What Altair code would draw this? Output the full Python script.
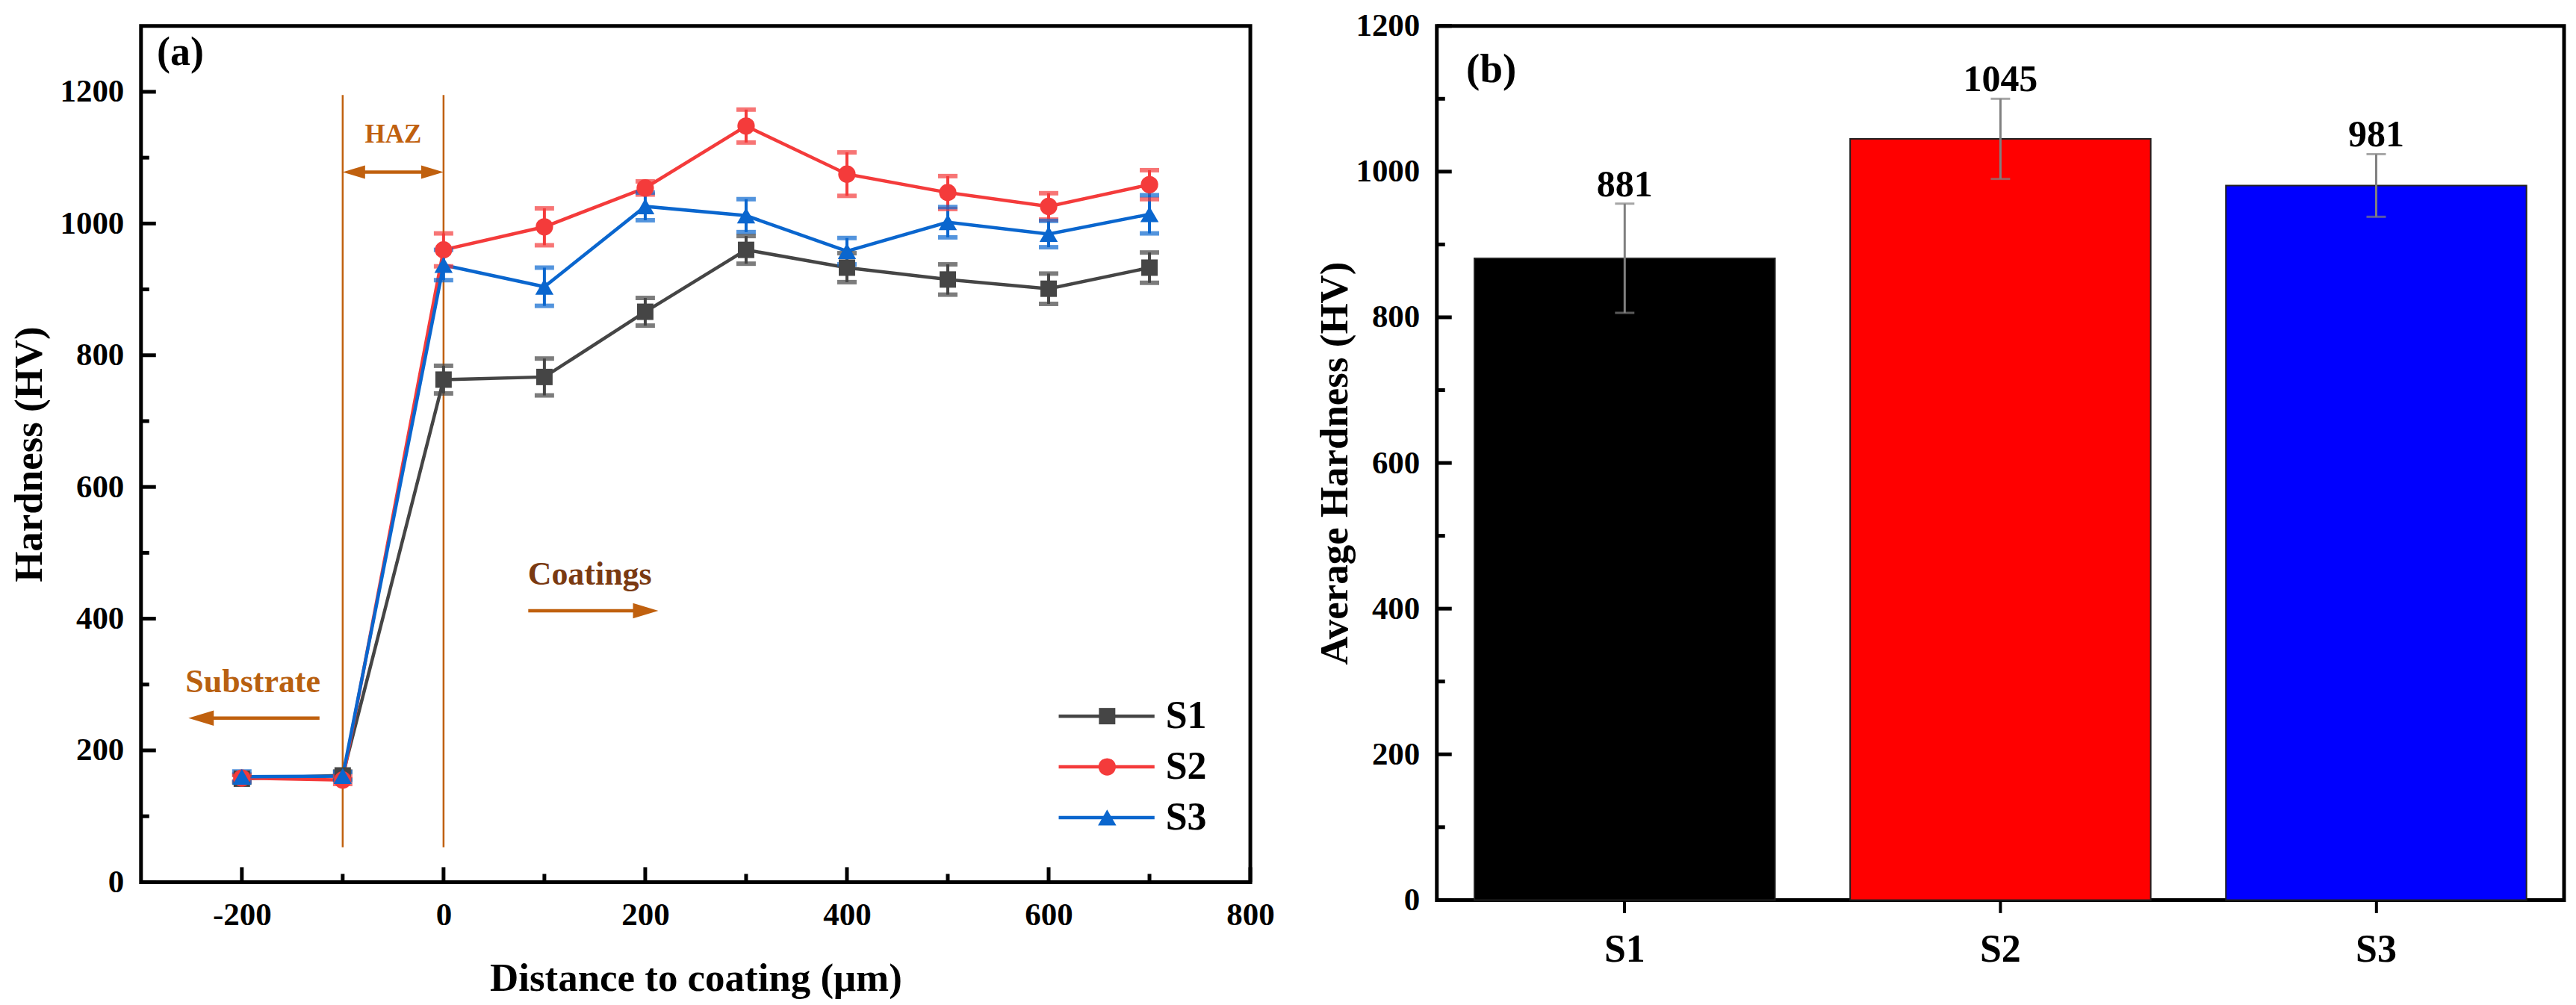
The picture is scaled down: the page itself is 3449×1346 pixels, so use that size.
import altair as alt
import pandas as pd

FONT = "Liberation Serif"

# ---------------- Panel (a): hardness profile ----------------
distance = [-200, -100, 0, 100, 200, 300, 400, 500, 600, 700]
s1_hv = [157, 162, 763, 767, 866, 960, 933, 915, 901, 933]
s1_err = [6, 6, 21, 28, 21, 21, 22, 23, 23, 23]
s2_hv = [158, 155, 960, 995, 1054, 1148, 1075, 1047, 1026, 1059]
s2_err = [5, 6, 25, 28, 10, 25, 33, 25, 20, 22]
s3_hv = [160, 161, 937, 904, 1026, 1012, 958, 1002, 984, 1014]
s3_err = [8, 6, 23, 29, 21, 25, 20, 23, 20, 29]

series = ["S1", "S2", "S3"]

x_major = [-200, 0, 200, 400, 600, 800]
x_minor = [-100, 100, 300, 500, 700]
y_major = [0, 200, 400, 600, 800, 1000, 1200]
y_minor = [100, 300, 500, 700, 900, 1100]

# annotation anchors (data units)
haz_x = [-100, 0]
haz_y0, haz_y1 = 53, 1195
haz_arrow_y = 1078
haz_text_x, haz_text_y = -50, 1135
sub_text_x, sub_text_y = -189, 303
sub_tail, sub_tip, sub_y = -123, -253, 249
coat_text_x, coat_text_y = 145, 466
coat_tail, coat_tip, coat_y = 84, 213, 412
a_text_x, a_text_y = -261, 1259
legend_y = [252, 175, 98]
leg_x0, leg_x1, leg_xm, leg_xt = 610, 705, 658, 716

# ---------------- Panel (b): average hardness ----------------
samples = ["S1", "S2", "S3"]
avg_hv = [881, 1045, 981]
avg_err = [75, 55, 43]

# ---------------- styles ----------------
series_colors = ["#454545", "#F43B3B", "#0A66CE"]
series_shapes = ["square", "circle", "triangle-up"]
marker_sizes = [484, 600, 700]
bar_colors = ["#000000", "#FF0000", "#0000FF"]
ORANGE = "#C0600E"
SUB_COLOR = "#B8600F"
COAT_COLOR = "#7A3A12"
W_A, H_A = 1487, 1148
W_B, H_B = 1511, 1172
HEAD_R = "M0,0L-2,-0.6L-2,0.6Z"
HEAD_L = "M0,0L2,-0.6L2,0.6Z"

rows = []
for name, vals, errs in zip(series, [s1_hv, s2_hv, s3_hv], [s1_err, s2_err, s3_err]):
    for d, v, e in zip(distance, vals, errs):
        rows.append({"series": name, "x": d, "hv": v, "lo": v - e, "hi": v + e})
df_a = pd.DataFrame(rows)

xs = alt.Scale(domain=[-300, 800], nice=False, zero=False)
ys_a = alt.Scale(domain=[0, 1300], nice=False)

ax_xa = alt.Axis(values=x_major, ticks=False, tickSize=0, domain=False, grid=False,
                 labelFontSize=43, labelPadding=23, labelFlush=False, labelOverlap=False,
                 labelExpr="'' + datum.value",
                 title="Distance to coating (μm)", titleFontSize=53, titlePadding=37)
ax_ya = alt.Axis(values=y_major, ticks=False, tickSize=0, domain=False, grid=False,
                 labelFontSize=43, labelPadding=23, labelExpr="'' + datum.value",
                 title="Hardness (HV)", titleFontSize=53, titlePadding=13)


def XA(f):
    return alt.X(f, type="quantitative", scale=xs, axis=ax_xa)


def YA(f):
    return alt.Y(f, type="quantitative", scale=ys_a, axis=ax_ya)


color_a = alt.Color("series:N", scale=alt.Scale(domain=series, range=series_colors), legend=None)
shape_a = alt.Shape("series:N", scale=alt.Scale(domain=series, range=series_shapes), legend=None)
size_a = alt.Size("series:N", scale=alt.Scale(domain=series, range=marker_sizes), legend=None)

base_a = alt.Chart(df_a)
lines = base_a.mark_line(strokeWidth=4.5).encode(x=XA("x"), y=YA("hv"), color=color_a)
err_a = base_a.mark_rule(strokeWidth=4).encode(x=XA("x"), y=YA("lo"), y2="hi", color=color_a)
cap_lo = base_a.mark_tick(orient="horizontal", size=26, thickness=6).encode(x=XA("x"), y=YA("lo"), color=color_a)
cap_hi = base_a.mark_tick(orient="horizontal", size=26, thickness=6).encode(x=XA("x"), y=YA("hi"), color=color_a)
pts = base_a.mark_point(filled=True, opacity=1).encode(x=XA("x"), y=YA("hv"), color=color_a,
                                                       shape=shape_a, size=size_a)

# manual inward ticks
ty_maj = alt.Chart(pd.DataFrame({"v": y_major})).mark_rule(color="black", strokeWidth=5).encode(
    y=YA("v"), x=alt.value(0), x2=alt.value(20))
ty_min = alt.Chart(pd.DataFrame({"v": y_minor})).mark_rule(color="black", strokeWidth=5).encode(
    y=YA("v"), x=alt.value(0), x2=alt.value(11))
tx_maj = alt.Chart(pd.DataFrame({"v": x_major})).mark_rule(color="black", strokeWidth=5).encode(
    x=XA("v"), y=alt.value(H_A), y2=alt.value(H_A - 20))
tx_min = alt.Chart(pd.DataFrame({"v": x_minor})).mark_rule(color="black", strokeWidth=5).encode(
    x=XA("v"), y=alt.value(H_A), y2=alt.value(H_A - 11))

# HAZ boundaries
haz_lines = alt.Chart(pd.DataFrame({"x": haz_x, "y0": [haz_y0] * 2, "y1": [haz_y1] * 2})).mark_rule(
    color=ORANGE, strokeWidth=2.5).encode(x=XA("x"), y=YA("y0"), y2="y1")

# arrows
shafts = alt.Chart(pd.DataFrame({
    "x0": [haz_x[0] + 10, sub_tail, coat_tail],
    "x1": [haz_x[1] - 10, sub_tip + 15, coat_tip - 15],
    "y": [haz_arrow_y, sub_y, coat_y]})).mark_rule(color=ORANGE, strokeWidth=4.5).encode(
    x=XA("x0"), x2="x1", y=YA("y"))
heads_r = alt.Chart(pd.DataFrame({"x": [haz_x[1], coat_tip], "y": [haz_arrow_y, coat_y], "s": [900, 1156]})).mark_point(
    shape=HEAD_R, filled=True, opacity=1, color=ORANGE, strokeWidth=0).encode(
    x=XA("x"), y=YA("y"), size=alt.Size("s:Q", scale=None))
heads_l = alt.Chart(pd.DataFrame({"x": [haz_x[0], sub_tip], "y": [haz_arrow_y, sub_y], "s": [900, 1156]})).mark_point(
    shape=HEAD_L, filled=True, opacity=1, color=ORANGE, strokeWidth=0).encode(
    x=XA("x"), y=YA("y"), size=alt.Size("s:Q", scale=None))


def label(text, x, y, size, color, align="center"):
    return alt.Chart(pd.DataFrame({"t": [text], "x": [x], "y": [y]})).mark_text(
        font=FONT, fontWeight="bold", fontSize=size, color=color, align=align, baseline="middle").encode(
        x=XA("x"), y=YA("y"), text="t:N")


t_haz = label("HAZ", haz_text_x, haz_text_y, 35, ORANGE)
t_sub = label("Substrate", sub_text_x, sub_text_y, 44, SUB_COLOR)
t_coat = label("Coatings", coat_text_x, coat_text_y, 44, COAT_COLOR)
t_a = label("(a)", a_text_x, a_text_y, 54, "black")

# legend
df_leg = pd.DataFrame({"series": series, "ly": legend_y, "x0": leg_x0, "x1": leg_x1, "xm": leg_xm, "xt": leg_xt})
leg_line = alt.Chart(df_leg).mark_rule(strokeWidth=4.5).encode(x=XA("x0"), x2="x1", y=YA("ly"), color=color_a)
leg_pt = alt.Chart(df_leg).mark_point(filled=True, opacity=1).encode(x=XA("xm"), y=YA("ly"), color=color_a,
                                                                      shape=shape_a, size=size_a)
leg_txt = alt.Chart(df_leg).mark_text(font=FONT, fontWeight="bold", fontSize=52, color="black",
                                      align="left", baseline="middle").encode(
    x=XA("xt"), y=YA("ly"), text="series:N")

panel_a = alt.layer(
    haz_lines, shafts, heads_r, heads_l, lines, err_a, cap_lo, cap_hi, pts,
    ty_maj, ty_min, tx_maj, tx_min, t_haz, t_sub, t_coat, t_a, leg_line, leg_pt, leg_txt
).properties(width=W_A, height=H_A)

# ---------------- Panel (b) ----------------
df_b = pd.DataFrame({"sample": samples, "hv": avg_hv,
                     "lo": [v - e for v, e in zip(avg_hv, avg_err)],
                     "hi": [v + e for v, e in zip(avg_hv, avg_err)]})

ax_xb = alt.Axis(labelAngle=0, ticks=True, tickSize=17, tickWidth=4, tickColor="black",
                 domain=False, grid=False, labelFontSize=52, labelPadding=24, title=None)
ax_yb = alt.Axis(values=y_major, ticks=False, tickSize=0, domain=False, grid=False,
                 labelFontSize=43, labelPadding=23, labelExpr="'' + datum.value",
                 title="Average Hardness (HV)", titleFontSize=53, titlePadding=0)
xb = alt.X("sample:N", scale=alt.Scale(domain=samples, paddingInner=0.2, paddingOuter=0.1), axis=ax_xb)
ys_b = alt.Scale(domain=[0, 1200], nice=False)


def YB(f):
    return alt.Y(f, type="quantitative", scale=ys_b, axis=ax_yb)


base_b = alt.Chart(df_b)
bars = base_b.mark_bar(stroke="#202020", strokeWidth=2).encode(
    x=xb, y=YB("hv"),
    color=alt.Color("sample:N", scale=alt.Scale(domain=samples, range=bar_colors), legend=None))
err_b = base_b.mark_rule(color="#808080", strokeWidth=3).encode(x=xb, y=YB("lo"), y2="hi")
capb_lo = base_b.mark_tick(orient="horizontal", size=26, thickness=3, color="#808080").encode(x=xb, y=YB("lo"))
capb_hi = base_b.mark_tick(orient="horizontal", size=26, thickness=3, color="#808080").encode(x=xb, y=YB("hi"))
vals_b = base_b.mark_text(font=FONT, fontWeight="bold", fontSize=50, color="black",
                          baseline="alphabetic", dy=-10).encode(x=xb, y=YB("hi"), text="hv:Q")
tyb_maj = alt.Chart(pd.DataFrame({"v": y_major})).mark_rule(color="black", strokeWidth=5).encode(
    y=YB("v"), x=alt.value(0), x2=alt.value(20))
tyb_min = alt.Chart(pd.DataFrame({"v": y_minor})).mark_rule(color="black", strokeWidth=5).encode(
    y=YB("v"), x=alt.value(0), x2=alt.value(11))
t_b = alt.Chart(pd.DataFrame({"t": ["(b)"]})).mark_text(
    font=FONT, fontWeight="bold", fontSize=55, color="black", baseline="middle").encode(
    text="t:N", x=alt.value(73), y=alt.value(58))

panel_b = alt.layer(bars, err_b, capb_lo, capb_hi, vals_b, tyb_maj, tyb_min, t_b).properties(
    width=W_B, height=H_B)

chart = alt.hconcat(panel_a, panel_b, spacing=250, bounds="flush").resolve_scale(
    color="independent", shape="independent", size="independent"
).properties(
    padding={"left": 3, "top": 2, "right": 5, "bottom": 0}
).configure(font=FONT).configure_view(stroke="black", strokeWidth=5).configure_axis(
    labelFont=FONT, titleFont=FONT, labelFontWeight="bold", titleFontWeight="bold",
    labelColor="black", titleColor="black")

chart.save("out.html", embed_options={"renderer": "svg", "actions": False})
